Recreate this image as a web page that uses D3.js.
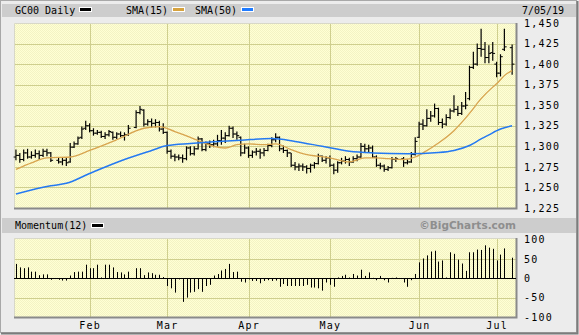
<!DOCTYPE html>
<html>
<head>
<meta charset="utf-8">
<title>GC00 Daily</title>
<style>
  html, body { margin: 0; padding: 0; background: #ececec; }
  svg { display: block; }
  text { font-family: "DejaVu Sans Mono", monospace; fill: #000; }
</style>
</head>
<body>
<svg id="svg" width="579" height="335"></svg>
<script src="https://d3js.org/d3.v7.min.js"></script>
<script>
// one slot per trading weekday, Jan 7 .. Jul 5 2019 (null = holiday, empty slot)
const openVals = [1287,1289,1284,1292,1287,1289,1291,1289,1294,1292,null,1283,1281,1283,1281,1299,1303,1311,1322,
  1325,1319,1316,1317,1312,1314,1317,1311,1315,1313,1314,null,1323,1341,1344,1327,1330,1328,1329,1321,
  1317,1294,1288,1287,1286,1285,1298,1291,1297,1309,1296,1303,1302,1303,1307,1310,1313,1322,1315,1311,1292,
  1298,1289,1293,1294,1292,1295,1301,1308,1311,1297,1295,1292,1277,1275,1276,1275,1273,1277,1279,1288,1283,
  1286,1277,1271,1280,1282,1284,1281,1285,1287,1300,1297,1298,1287,1277,1276,1272,1274,1284,null,1285,1280,1281,1290,
  1311,1327,1325,1334,1337,1346,1329,1327,1335,1343,1345,1340,1349,1358,1396,1400,1419,1418,1408,1414,
  1400,1389,1418,null,1420]
const highVals = [1296,1292,1296,1297,1294,1296,1295,1297,1297,1293,null,1287,1286,1287,1304,1306,1312,1324,1331,
  1328,1322,1320,1319,1317,1320,1318,1317,1318,1317,1326,null,1344,1349,1345,1333,1334,1333,1331,1328,
  1318,1296,1291,1290,1290,1300,1300,1300,1312,1310,1306,1307,1308,1314,1320,1317,1325,1324,1318,1312,1303,
  1300,1295,1298,1297,1298,1303,1311,1316,1312,1301,1296,1292,1281,1279,1279,1277,1279,1281,1291,1289,1288,
  1289,1279,1282,1286,1288,1286,1288,1290,1304,1303,1302,1301,1289,1280,1278,1276,1287,1287,null,1287,1284,1293,1311,
  1330,1333,1345,1343,1352,1347,1334,1339,1346,1362,1349,1354,1366,1398,1415,1425,1443,1427,1423,1427,
  1403,1412,1443,null,1424]
const lowVals = [1283,1280,1282,1285,1285,1286,1284,1287,1288,1281,null,1279,1277,1276,1280,1298,1302,1309,1320,
  1317,1313,1314,1310,1309,1312,1308,1309,1311,1307,1313,null,1322,1339,1324,1325,1323,1323,1318,1315,
  1291,1285,1282,1283,1280,1283,1289,1289,1296,1294,1294,1298,1299,1300,1302,1304,1312,1310,1308,1288,1291,
  1286,1286,1289,1285,1288,1294,1299,1305,1294,1292,1287,1275,1271,1270,1270,1267,1268,1273,1278,1281,1279,
  1275,1266,1268,1278,1279,1276,1280,1282,1286,1293,1293,1286,1275,1272,1269,1270,1273,1281,null,1275,1278,1280,1289,
  1310,1320,1324,1330,1335,1326,1322,1325,1333,1341,1337,1338,1345,1356,1394,1398,1409,1401,1401,1404,
  1384,1385,1416,null,1387]
const closeVals = [1289,1284,1292,1287,1289,1291,1289,1294,1292,1283,null,1281,1283,1280,1299,1303,1310,1321,1325,
  1319,1316,1317,1312,1314,1318,1311,1315,1313,1314,1322,null,1341,1345,1327,1330,1328,1329,1321,1317,
  1294,1288,1287,1286,1285,1298,1291,1297,1309,1296,1303,1302,1303,1307,1310,1313,1322,1315,1313,1292,1298,
  1289,1293,1294,1292,1295,1301,1308,1311,1297,1295,1292,1277,1275,1276,1275,1273,1277,1279,1288,1283,1286,
  1277,1271,1280,1282,1284,1281,1285,1287,1300,1297,1298,1287,1277,1276,1272,1274,1284,1285,null,1280,1281,1290,1306,
  1327,1325,1334,1337,1346,1329,1327,1335,1343,1345,1340,1349,1350,1396,1400,1419,1418,1408,1413,1413,
  1389,1409,1421,null,1400]

const sma15Idx = [0,4,8,14,19,26,33,37,41,45,48,51,54,57,60,64,67,71,74,81,86,90,93,96,100,103,105,109,113,117,120,123,124,126,128]
const sma15Vals = [1272,1280,1286,1287,1295,1308,1322,1324,1318,1311,1305,1300,1298,1302,1303,1302,1303,1296,1291,1286,1281,1286,1286,1285,1284,1287,1292,1304,1319,1340,1358,1372,1376,1386,1392]
const sma50Idx = [0,9,13,19,28,35,39,45,51,58,66,72,79,86,92,101,109,113,117,120,122,125,128]
const sma50Vals = [1242,1252,1255,1267,1284,1295,1301,1303.5,1305.5,1307.5,1309.5,1306,1300,1294,1292,1291,1292.5,1295,1301,1309,1314,1321,1325]

const momentumVals = [37,28,26,28,17,17,8,10,10,-4,null,-4,-6,-6,7,16,17,17,35,
  26,26,35,2,35,35,28,16,15,10,17,null,26,26,8,15,13,9,9,3,
  -20,-26,-37,-3,-61,-50,-37,-35,-28,-35,-20,-17,7,11,20,24,37,16,17,-9,-11,
  -3,-7,-7,-13,-7,-5,-7,-6,-22,-15,-20,-20,-20,-20,-20,-17,-24,-24,-26,-32,-11,
  -17,-22,2,6,9,2,11,7,22,6,15,1,-5,6,-5,-11,1,2,null,-11,-22,-5,11,
  41,51,59,69,71,43,46,2,67,63,48,38,19,67,67,74,73,85,79,76,
  46,61,77,null,53]

const priceTicks = [1225,1250,1275,1300,1325,1350,1375,1400,1425,1450]
const momTicks = [-100,-50,0,50,100]
const monthIdx = [19,39,60,81,104,124]
const monthLabels = ['Feb','Mar','Apr','May','Jun','Jul']

const W = 579, H = 335
const L = 14, R = 516
const pTop = 23, pBot = 208
const mTop = 238, mBot = 317

const x = d3.scaleLinear().domain([-0.5, 129]).range([L, R])
const y = d3.scaleLinear().domain([1225, 1450]).range([pBot, pTop])
const ym = d3.scaleLinear().domain([-100, 100]).range([mBot, 239.5])
const px = v => Math.round(v) + 0.5

const svg = d3.select('#svg')

// frame
svg.append('rect').attr('x', 0).attr('y', 0).attr('width', W).attr('height', H).attr('fill', '#ececec')
svg.append('rect').attr('x', 0.5).attr('y', 0.5).attr('width', W - 3).attr('height', H - 3)
  .attr('fill', 'none').attr('stroke', '#a8a8a8')
svg.append('path').attr('d', `M${W - 1.5},1V${H - 1.5}H1`).attr('fill', 'none').attr('stroke', '#7c7c7c').attr('stroke-width', 2)

// dotted yellow fill
const pat = svg.append('defs').append('pattern').attr('id', 'dots')
  .attr('width', 2).attr('height', 2).attr('patternUnits', 'userSpaceOnUse')
pat.append('rect').attr('width', 2).attr('height', 2).attr('fill', '#ffffd4')
pat.append('rect').attr('width', 1).attr('height', 1).attr('fill', '#f3f3c4')
pat.append('rect').attr('x', 1).attr('y', 1).attr('width', 1).attr('height', 1).attr('fill', '#f3f3c4')

// title bars
svg.append('rect').attr('x', 2).attr('y', 4).attr('width', 574).attr('height', 13).attr('fill', '#cdcdcd')
svg.append('rect').attr('x', 2).attr('y', 218).attr('width', 574).attr('height', 15).attr('fill', '#cdcdcd')

const title = svg.append('g').attr('font-size', 10)
title.append('text').attr('x', 15).attr('y', 14).text('GC00 Daily')
title.append('text').attr('x', 126).attr('y', 14).text('SMA(15)')
title.append('text').attr('x', 195).attr('y', 14).text('SMA(50)')
title.append('text').attr('x', 522).attr('y', 14).text('7/05/19')
title.append('text').attr('x', 15).attr('y', 229).text('Momentum(12)')
title.append('text').attr('x', 516).attr('y', 229).attr('text-anchor', 'end')
  .style('font-family', '"DejaVu Sans", sans-serif').attr('font-weight', 'bold').attr('font-size', 10.5)
  .style('fill', '#8e8e8e').text('\u00a9BigCharts.com')

const swatches = [[79, 7, '#000'], [172, 7, '#d6a23e'], [241, 7, '#1f7bff'], [91, 223, '#000']]
svg.selectAll('rect.sw').data(swatches).enter().append('rect').attr('class', 'sw')
  .attr('x', d => d[0] + 0.5).attr('y', d => d[1] + 0.5).attr('width', 12).attr('height', 4)
  .attr('fill', d => d[2]).attr('stroke', '#fff')

// panels
function panel(top, bot, hTicks, yscale) {
  const g = svg.append('g')
  g.append('rect').attr('x', L).attr('y', top).attr('width', R - L).attr('height', bot - top).attr('fill', 'url(#dots)')
  g.selectAll('line.h').data(hTicks).enter().append('line')
    .attr('x1', L).attr('x2', R).attr('y1', d => px(yscale(d))).attr('y2', d => px(yscale(d)))
    .attr('stroke', '#cfcf8e')
  g.selectAll('line.v').data(monthIdx).enter().append('line')
    .attr('x1', d => px(x(d))).attr('x2', d => px(x(d))).attr('y1', top).attr('y2', bot)
    .attr('stroke', '#cfcf8e')
  g.append('path').attr('d', `M${L + 0.5},${bot}V${top + 0.5}H${R}`).attr('fill', 'none').attr('stroke', '#d8d8c8')
  g.append('path').attr('d', `M${L},${bot + 0.5}H${R + 0.5}V${top}`).attr('fill', 'none').attr('stroke', '#8a8a8a').attr('stroke-width', 2)
  return g
}
panel(pTop, pBot, priceTicks.slice(1, -1), y)
panel(mTop, mBot, [50, -50], ym)

// OHLC bars
const bars = d3.range(closeVals.length).filter(i => closeVals[i] != null)
const ohlc = svg.append('g').attr('stroke', '#000')
ohlc.selectAll('line.hl').data(bars).enter().append('line')
  .attr('x1', i => x(i)).attr('x2', i => x(i)).attr('y1', i => y(highVals[i])).attr('y2', i => y(lowVals[i]))
  .attr('stroke-width', 1.2)
ohlc.selectAll('line.o').data(bars).enter().append('line')
  .attr('x1', i => x(i) - 2.3).attr('x2', i => x(i)).attr('y1', i => y(openVals[i])).attr('y2', i => y(openVals[i]))
  .attr('stroke-width', 1)
ohlc.selectAll('line.c').data(bars).enter().append('line')
  .attr('x1', i => x(i)).attr('x2', i => x(i) + 2.3).attr('y1', i => y(closeVals[i])).attr('y2', i => y(closeVals[i]))
  .attr('stroke-width', 1)

// moving averages
const smaLine = d3.line().x(d => x(d[0])).y(d => y(d[1])).curve(d3.curveMonotoneX)
svg.append('path').attr('d', smaLine(d3.zip(sma15Idx, sma15Vals)))
  .attr('fill', 'none').attr('stroke', '#d8a44e').attr('stroke-width', 1.3)
svg.append('path').attr('d', smaLine(d3.zip(sma50Idx, sma50Vals)))
  .attr('fill', 'none').attr('stroke', '#2479f2').attr('stroke-width', 1.5)

// momentum
const momBars = d3.range(momentumVals.length).filter(i => momentumVals[i] != null)
svg.append('g').selectAll('line').data(momBars).enter().append('line')
  .attr('x1', i => px(x(i))).attr('x2', i => px(x(i)))
  .attr('y1', px(ym(0))).attr('y2', i => ym(momentumVals[i]))
  .attr('stroke', '#000')
svg.append('line').attr('x1', L).attr('x2', R).attr('y1', px(ym(0))).attr('y2', px(ym(0))).attr('stroke', '#000')

// axes
function styleAxis(g) {
  g.select('.domain').remove()
  g.attr('font-family', null).attr('font-size', 10)
  g.selectAll('text').attr('letter-spacing', 1.2)
}
svg.append('g').attr('transform', `translate(${R},0)`)
  .call(d3.axisRight(y).tickValues(priceTicks).tickSize(0).tickPadding(8).tickFormat(d3.format(',')))
  .call(styleAxis)
svg.append('g').attr('transform', `translate(${R},0)`)
  .call(d3.axisRight(ym).tickValues(momTicks).tickSize(0).tickPadding(8).tickFormat(d => String(d)))
  .call(styleAxis)
svg.append('g').attr('transform', `translate(0,${mBot})`)
  .call(d3.axisBottom(x).tickValues(monthIdx).tickSize(0).tickPadding(5).tickFormat((d, i) => monthLabels[i]))
  .call(styleAxis)
</script>
</body>
</html>
